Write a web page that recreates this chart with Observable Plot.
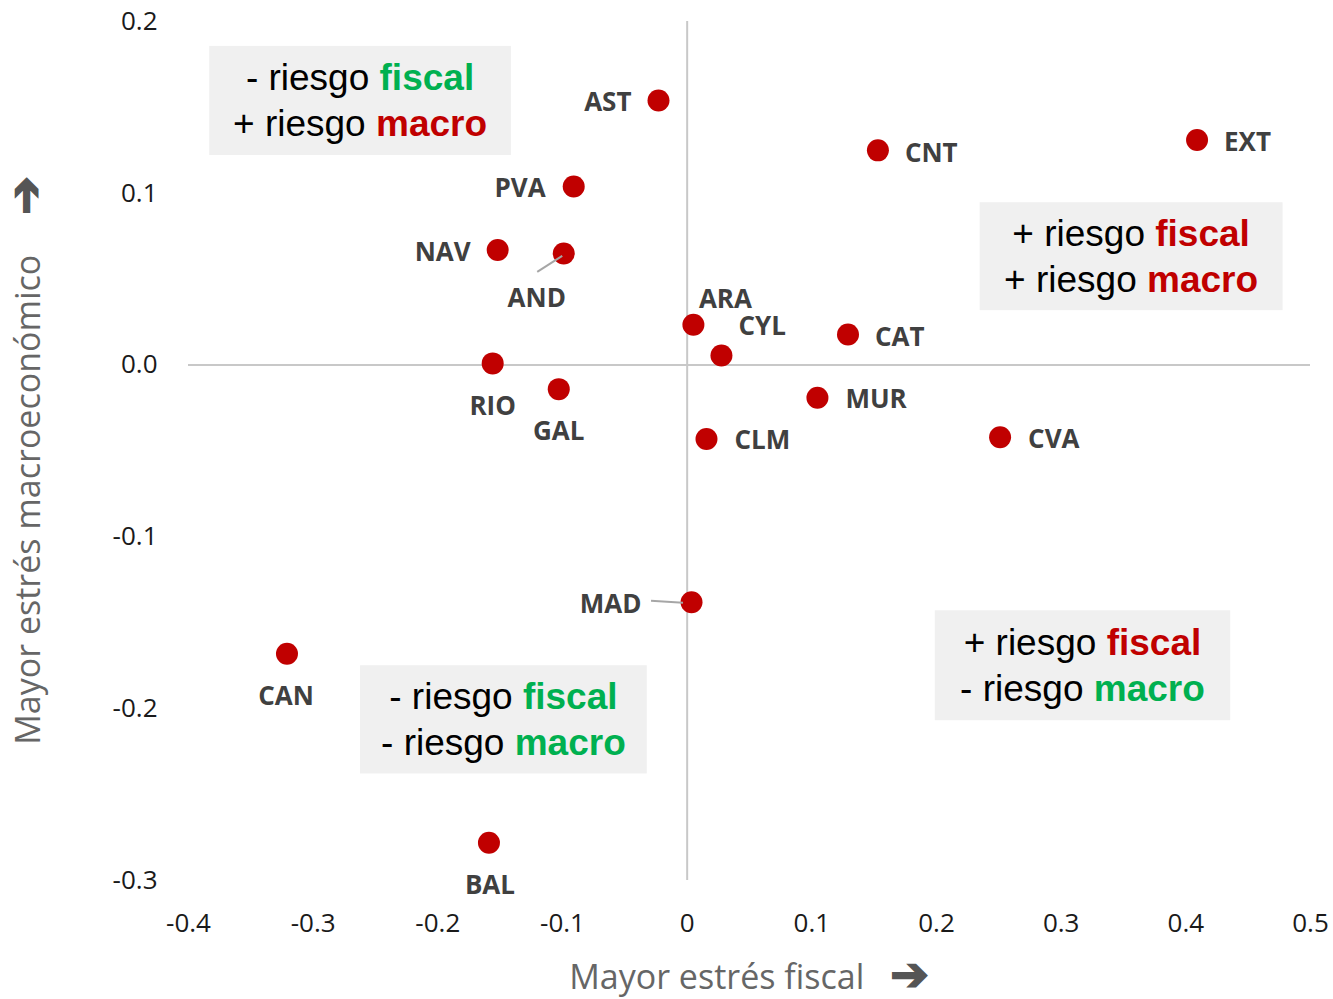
<!DOCTYPE html>
<html>
<head>
<meta charset="utf-8">
<script src="https://cdn.jsdelivr.net/npm/d3@7"></script>
<script src="https://cdn.jsdelivr.net/npm/@observablehq/plot@0.6"></script>
<style>
  html, body { margin: 0; padding: 0; background: #fff; }
  #chart { width: 1333px; height: 999px; }
</style>
</head>
<body>
<div id="chart"></div>
<script>
// ---- data ----
const regions = ["AST","PVA","NAV","AND","ARA","CYL","CAT","CNT","EXT","RIO","GAL","MUR","CLM","CVA","MAD","CAN","BAL"];
const fiscalStress = [-0.023,-0.091,-0.152,-0.099,0.005,0.0275,0.129,0.153,0.409,-0.156,-0.103,0.1045,0.0155,0.251,0.0035,-0.321,-0.159];
const macroStress = [0.154,0.104,0.067,0.065,0.0235,0.0056,0.0178,0.125,0.131,0.001,-0.014,-0.019,-0.043,-0.042,-0.138,-0.168,-0.278];

const xTicks = [-0.4,-0.3,-0.2,-0.1,0,0.1,0.2,0.3,0.4,0.5];
const xTickLabels = ["-0.4","-0.3","-0.2","-0.1","0","0.1","0.2","0.3","0.4","0.5"];
const yTicks = [0.2,0.1,0,-0.1,-0.2,-0.3];
const yTickLabels = ["0.2","0.1","0.0","-0.1","-0.2","-0.3"];

const xTitle = "Mayor estrés fiscal";
const yTitle = "Mayor estrés macroeconómico";
const arrow = "➔";

// quadrant annotations
const quadFiscalSign = ["-","+","+","-"];
const quadMacroSign  = ["+","+","-","-"];

// ---- layout / style (not data) ----
const RED = "#c00000", GREEN = "#00b050", TITLE_GRAY = "#666666";
const quadBox = [
  {x1:-0.383, x2:-0.141, y1:0.1855, y2:0.122},
  {x1:0.235,  x2:0.478,  y1:0.0945, y2:0.0317},
  {x1:0.199,  x2:0.436,  y1:-0.143, y2:-0.207},
  {x1:-0.262, x2:-0.032, y1:-0.175, y2:-0.238}
];
const place = {
  AST:{a:"end",dx:-27,dy:2}, PVA:{a:"end",dx:-28,dy:2}, NAV:{a:"end",dx:-27,dy:3},
  AND:{a:"middle",dx:-27,dy:45}, ARA:{a:"middle",dx:32,dy:-25}, CYL:{a:"start",dx:17,dy:-29},
  CAT:{a:"start",dx:27,dy:3}, CNT:{a:"start",dx:27,dy:3}, EXT:{a:"start",dx:27,dy:3},
  RIO:{a:"middle",dx:0,dy:43}, GAL:{a:"middle",dx:0,dy:43}, MUR:{a:"start",dx:28,dy:2},
  CLM:{a:"start",dx:28,dy:2}, CVA:{a:"start",dx:28,dy:2}, MAD:{a:"end",dx:-50,dy:2},
  CAN:{a:"middle",dx:-1,dy:43}, BAL:{a:"middle",dx:1,dy:43}
};
const leaders = { AND: [[-1,3],[-26,19]], MAD: [[-8,1],[-40,-1]] };

const idx = regions.map((_, i) => i);
const fmt = (ticks, labels) => d => labels[ticks.findIndex(t => Math.abs(t - d) < 1e-9)];

function leaderMark(index, scales) {
  const g = d3.create("svg:g");
  regions.forEach((r, i) => {
    const L = leaders[r];
    if (!L) return;
    const px = scales.x(fiscalStress[i]), py = scales.y(macroStress[i]);
    g.append("line")
      .attr("x1", px + L[0][0]).attr("y1", py + L[0][1])
      .attr("x2", px + L[1][0]).attr("y2", py + L[1][1])
      .attr("stroke", "#a6a6a6").attr("stroke-width", 2);
  });
  return g.node();
}

function quadMark(index, scales) {
  const g = d3.create("svg:g");
  quadBox.forEach((b, i) => {
    const x1 = scales.x(b.x1), x2 = scales.x(b.x2), y1 = scales.y(b.y1), y2 = scales.y(b.y2);
    g.append("rect").attr("x", x1).attr("y", y1).attr("width", x2 - x1).attr("height", y2 - y1)
      .attr("fill", "#f0f0f0");
    const cx = (x1 + x2) / 2, cy = (y1 + y2) / 2;
    const lines = [
      [quadFiscalSign[i] + " riesgo ", "fiscal", quadFiscalSign[i] === "+" ? RED : GREEN],
      [quadMacroSign[i] + " riesgo ", "macro", quadMacroSign[i] === "+" ? RED : GREEN]
    ];
    lines.forEach((ln, j) => {
      const t = g.append("text").attr("x", cx).attr("y", cy + (j === 0 ? -23 : 23))
        .attr("dy", "0.35em").attr("text-anchor", "middle")
        .attr("font-family", "'Liberation Sans', Arial, sans-serif").attr("font-size", 37)
        .attr("fill", "#000").style("white-space", "pre");
      t.append("tspan").text(ln[0]);
      t.append("tspan").attr("font-weight", "bold").attr("fill", ln[2]).text(ln[1]);
    });
  });
  return g.node();
}

function titleMark(index, scales, values, dims) {
  const g = d3.create("svg:g")
    .attr("font-family", "'Open Sans', sans-serif").attr("font-size", 34).attr("fill", TITLE_GRAY)
    .style("white-space", "pre");
  const cx = (dims.marginLeft + dims.width - dims.marginRight) / 2;
  const cy = (dims.marginTop + dims.height - dims.marginBottom) / 2;
  const addArrowTitle = (sel, title, gap) => {
    sel.append("tspan").text(title);
    sel.append("tspan").attr("dx", gap).attr("font-family", "'DejaVu Sans', sans-serif")
      .attr("font-size", 46).attr("fill", "#555").attr("stroke", "#555").attr("stroke-width", 1.8)
      .attr("dy", "0.02em").text(arrow);
  };
  const xt = g.append("text").attr("x", cx).attr("y", dims.height - dims.marginBottom + 97)
    .attr("dy", "0.35em").attr("text-anchor", "middle");
  addArrowTitle(xt, xTitle, 26);
  const yt = g.append("text").attr("transform", `translate(28,${cy + 10}) rotate(-90)`)
    .attr("dy", "0.35em").attr("text-anchor", "middle");
  addArrowTitle(yt, yTitle, 40);
  return g.node();
}

const labelMarks = regions.map((r, i) => Plot.text([i], {
  x: k => fiscalStress[k], y: k => macroStress[k], text: k => regions[k],
  textAnchor: place[r].a, dx: place[r].dx, dy: place[r].dy,
  fontFamily: "'Open Sans', sans-serif", fontWeight: "bold", fontSize: 26, fill: "#404040"
}));

const plot = Plot.plot({
  width: 1333, height: 999,
  marginLeft: 188, marginRight: 23, marginTop: 21, marginBottom: 119,
  style: { fontFamily: "'Open Sans', sans-serif", fontSize: "26px", color: "#1a1a1a", background: "#fff", overflow: "visible" },
  x: { domain: [-0.4, 0.5], ticks: xTicks, tickFormat: fmt(xTicks, xTickLabels), tickSize: 0, tickPadding: 33, label: null },
  y: { domain: [-0.3, 0.2], ticks: yTicks, tickFormat: fmt(yTicks, yTickLabels), tickSize: 0, tickPadding: 31, label: null },
  marks: [
    Plot.ruleX([0], { stroke: "#c8c8c8", strokeWidth: 2 }),
    Plot.ruleY([0], { stroke: "#c8c8c8", strokeWidth: 2 }),
    quadMark,
    Plot.dot(idx, { x: k => fiscalStress[k], y: k => macroStress[k], r: 11, fill: RED, stroke: "none" }),
    leaderMark,
    ...labelMarks,
    titleMark
  ]
});
document.getElementById("chart").appendChild(plot);
</script>
</body>
</html>
